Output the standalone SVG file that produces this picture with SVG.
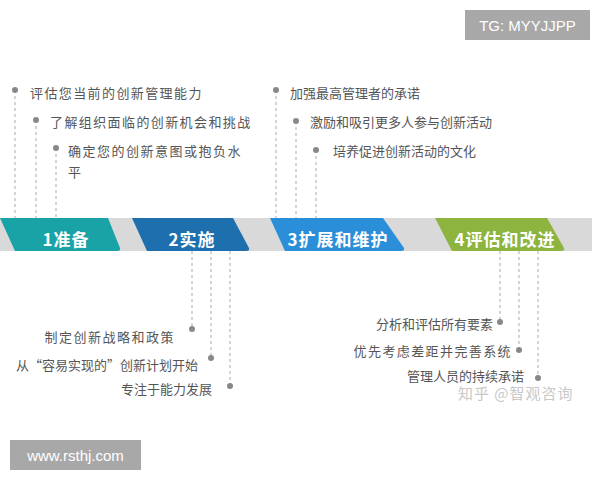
<svg xmlns="http://www.w3.org/2000/svg" width="600" height="480" viewBox="0 0 600 480">
<style>
.lbl{font-family:"Noto Sans CJK SC","Noto Sans",sans-serif;font-size:13px;fill:#555}
.stage{font-family:"Noto Sans CJK SC","Noto Sans",sans-serif;font-size:17px;font-weight:bold;fill:#fff;text-anchor:middle;letter-spacing:1px}
.lead{stroke:#aaa;stroke-width:1;stroke-dasharray:3,3;fill:none}
.dot{fill:#888}
.tag{font-family:"Liberation Sans",Arial,sans-serif;font-size:15px;fill:#fff}
</style>
<rect width="600" height="480" fill="#fff"/>
<rect x="0" y="218" width="592" height="33" fill="#d9d9d9"/>
<g id="connectors">
<line class="lead" x1="15" y1="90" x2="15" y2="218"/>
<line class="lead" x1="36" y1="120" x2="36" y2="218"/>
<line class="lead" x1="56" y1="148" x2="56" y2="218"/>
<line class="lead" x1="276" y1="90" x2="276" y2="218"/>
<line class="lead" x1="296" y1="121" x2="296" y2="218"/>
<line class="lead" x1="316" y1="150" x2="316" y2="218"/>
<line class="lead" x1="192" y1="251" x2="192" y2="329"/>
<line class="lead" x1="211" y1="251" x2="211" y2="358"/>
<line class="lead" x1="230" y1="251" x2="230" y2="386"/>
<line class="lead" x1="500" y1="251" x2="500" y2="322"/>
<line class="lead" x1="519" y1="251" x2="519" y2="350"/>
<line class="lead" x1="538" y1="251" x2="538" y2="378"/>
</g>
<g id="stage1">
<path d="M0,218 L108,218 L120,248 Q121,251 117,251 L15,251 Z" fill="#1aa3a6"/>
<text class="stage" x="66" y="246">1准备</text>
</g>
<g id="stage2">
<path d="M132,218 L233,218 L249,248 Q250,251 246,251 L147,251 Z" fill="#1e6fae"/>
<text class="stage" x="192" y="246">2实施</text>
</g>
<g id="stage3">
<path d="M270,218 L383,218 L404,248 Q405,251 401,251 L285,251 Z" fill="#2a8fd8"/>
<text class="stage" x="338" y="246">3扩展和维护</text>
</g>
<g id="stage4">
<path d="M435,218 L547,218 L564,248 Q565,251 561,251 L452,251 Z" fill="#8db43e"/>
<text class="stage" x="505" y="246">4评估和改进</text>
</g>
<g id="t1"><circle class="dot" cx="15" cy="90" r="3"/><text class="lbl" x="30" y="98" letter-spacing="1.4">评估您当前的创新管理能力</text></g>
<g id="t2"><circle class="dot" cx="36" cy="120" r="3"/><text class="lbl" x="50" y="127" letter-spacing="1.4">了解组织面临的创新机会和挑战</text></g>
<g id="t3"><circle class="dot" cx="56" cy="148" r="3"/><text class="lbl" x="68" y="156" letter-spacing="1.5">确定您的创新意图或抱负水</text><text class="lbl" x="68" y="177">平</text></g>
<g id="t4"><circle class="dot" cx="276" cy="90" r="3"/><text class="lbl" x="290" y="98">加强最高管理者的承诺</text></g>
<g id="t5"><circle class="dot" cx="296" cy="121" r="3"/><text class="lbl" x="310" y="127">激励和吸引更多人参与创新活动</text></g>
<g id="t6"><circle class="dot" cx="316" cy="150" r="3"/><text class="lbl" x="333" y="156">培养促进创新活动的文化</text></g>
<g id="b1"><circle class="dot" cx="192" cy="329" r="3"/><text class="lbl" x="175" y="342" text-anchor="end" letter-spacing="1.5">制定创新战略和政策</text></g>
<g id="b2"><circle class="dot" cx="211" cy="358" r="3"/><text class="lbl" x="198" y="370" text-anchor="end">从“容易实现的”创新计划开始</text></g>
<g id="b3"><circle class="dot" cx="230" cy="386" r="3"/><text class="lbl" x="212" y="394" text-anchor="end">专注于能力发展</text></g>
<g id="b4"><circle class="dot" cx="500" cy="322" r="3"/><text class="lbl" x="493" y="329" text-anchor="end">分析和评估所有要素</text></g>
<g id="b5"><circle class="dot" cx="519" cy="350" r="3"/><text class="lbl" x="512" y="356" text-anchor="end" letter-spacing="1.4">优先考虑差距并完善系统</text></g>
<g id="b6"><circle class="dot" cx="538" cy="378" r="3"/><text class="lbl" x="524" y="381" text-anchor="end">管理人员的持续承诺</text></g>
<text x="458" y="399" font-family="Noto Sans CJK SC,sans-serif" font-size="15" letter-spacing="1" fill="#c8c8c8">知乎 @智观咨询</text>
<g id="tg"><rect x="465" y="10" width="125" height="30" fill="#a8a8a8"/><text class="tag" x="527.5" y="30.5" text-anchor="middle">TG: MYYJJPP</text></g>
<g id="www"><rect x="10" y="440" width="131" height="30" fill="#a8a8a8"/><text class="tag" x="75.5" y="460.5" text-anchor="middle">www.rsthj.com</text></g>
</svg>
